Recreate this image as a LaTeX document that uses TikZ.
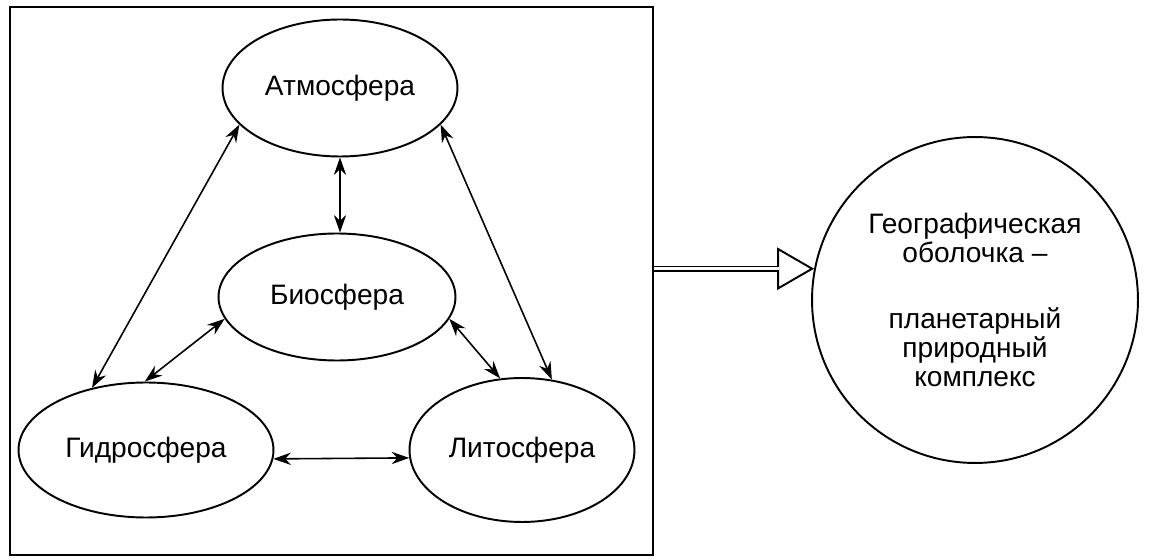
\documentclass[tikz,border=0pt]{standalone}
\usepackage{fontspec}
\setmainfont{Liberation Sans}
\usetikzlibrary{shapes.geometric,arrows.meta}

\begin{document}
\begin{tikzpicture}[x=0.02cm,y=-0.02cm]
\fontsize{16}{16.5}\selectfont
\useasboundingbox (0,0) rectangle (1150,560);
\tikzset{
  sphere/.style={draw, ellipse, line width=1.1pt, inner sep=0pt},
  link/.style={line width=0.9pt, {Stealth[length=10pt,width=7pt]}-{Stealth[length=10pt,width=7pt]}}
}
\node[draw, line width=1.1pt, minimum width=12.86cm, minimum height=10.96cm] (frame) at (331.5,281) {};

\node[sphere, minimum width=4.7cm, minimum height=2.74cm] (atm) at (340,88) {Атмосфера};
\node[sphere, minimum width=4.74cm, minimum height=2.54cm] (bio) at (337,297) {Биосфера};
\node[sphere, minimum width=5.1cm, minimum height=2.7cm] (hyd) at (146,450) {Гидросфера};
\node[sphere, minimum width=4.5cm, minimum height=2.88cm] (lito) at (522,450) {Литосфера};
\node[draw, circle, line width=1.1pt, minimum size=6.52cm, align=center] (geo) at (975,300)
  {Географическая\\оболочка –\\[0.74cm]планетарный\\природный\\комплекс};

\path[draw,link] (atm.200) -- (hyd.131);
\path[draw,link] (atm.340) -- (lito.67);
\path[draw,link] (atm.south) -- (atm.south |- bio.north);
\path[draw,link] (bio.191) -- (hyd.91);
\path[draw,link] (bio.349) -- (lito.107);
\path[draw,link] (hyd.356) -- (lito.184);

\coordinate (dstart) at (frame.east |- geo.169);
\path[draw, line width=1.1pt, -{Triangle[open,length=21pt,width=24pt]}] (dstart) -- (geo.169);
\path[draw, line width=1pt, double, double distance=1.6pt, shorten >=20pt] (dstart) -- (geo.169);
\end{tikzpicture}
\end{document}
